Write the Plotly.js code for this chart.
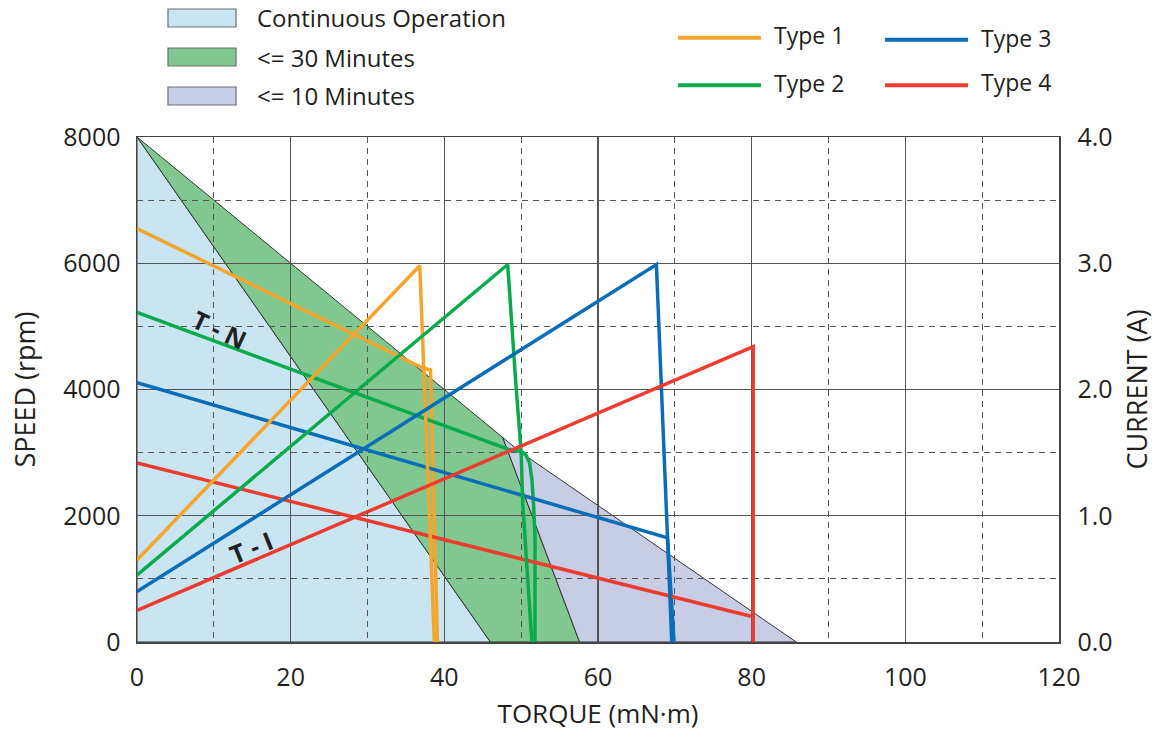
<!DOCTYPE html>
<html><head><meta charset="utf-8">
<script src="https://cdn.plot.ly/plotly-3.0.1.min.js"></script>
<style>html,body{margin:0;padding:0;background:#fff}#chart{width:1166px;height:737px}</style>
</head><body><div id="chart"></div>
<script>
// Operating regions (torque mN·m, speed rpm)
const continuousTorque = [0, 46, 0];
const continuousSpeed  = [8000, 0, 0];
const min30Torque = [0, 47.6, 57.6, 46];
const min30Speed  = [8000, 3240, 0, 0];
const min10Torque = [47.6, 50, 85.8, 57.6];
const min10Speed  = [3240, 3000, 0, 0];

// T-N curves (speed, rpm) and T-I curves (current, A)
const type1TN_x = [0, 37.2, 38.2, 39.1];
const type1TN_y = [6550, 4340, 4310, 0];
const type1TI_x = [0, 36.8, 38.7];
const type1TI_y = [0.65, 2.98, 0];

const type2TN_x = [0, 48.5, 50.0, 50.6, 51.1, 51.4, 51.6, 51.8, 51.8];
const type2TN_y = [5220, 3046, 3019, 2967, 2835, 2571, 2202, 1674, 0];
const type2TI_x = [0, 48.25, 49.3, 50.0, 50.2, 50.6, 51.1, 51.4];
const type2TI_y = [0.53, 2.99, 2.05, 1.50, 1.10, 0.71, 0.31, 0];

const type3TN_x = [0, 68.6, 69.05, 69.9];
const type3TN_y = [4110, 1665, 1649, 0];
const type3TI_x = [0, 67.6, 69.6];
const type3TI_y = [0.40, 2.99, 0];

const type4TN_x = [0, 79.9];
const type4TN_y = [2835, 408];
const type4TI_x = [0, 80.2, 80.2];
const type4TI_y = [0.25, 2.34, 0];

const xTicks = [0, 20, 40, 60, 80, 100, 120];
const ySpeedTicks = [0, 2000, 4000, 6000, 8000];
const yCurrentTicks = [0, 1, 2, 3, 4];

const regionNames = ['Continuous Operation', '<= 30 Minutes', '<= 10 Minutes'];
const regionColors = ['#c9e5f1', '#80c88f', '#c8cde6'];
const typeNames = ['Type 1', 'Type 2', 'Type 3', 'Type 4'];
const typeColors = ['#f5a52b', '#0aab4c', '#0a6db8', '#ee3b2f'];

const FONT = 'Open Sans, Noto Sans, sans-serif';
const TXT = '#231f20';

function pathOf(xs, ys) {
  return xs.map((x, i) => (i ? 'L' : 'M') + x + ',' + ys[i]).join(' ') + ' Z';
}
const regions = [[continuousTorque, continuousSpeed], [min30Torque, min30Speed], [min10Torque, min10Speed]];
const shapes = regions.map((r, i) => ({
  type: 'path', xref: 'x', yref: 'y', layer: 'below',
  path: pathOf(r[0], r[1]),
  fillcolor: regionColors[i],
  line: {color: '#333', width: 1}
}));

const annotations = [];
// region key (boxes + labels) above the plot, in paper coordinates
const keyRows = [[1.2178, 1.2535], [1.1406, 1.1762], [1.0634, 1.0990]];
regionColors.forEach((c, i) => {
  shapes.push({
    type: 'rect', xref: 'paper', yref: 'paper', layer: 'above',
    x0: 0.0336, x1: 0.1074, y0: keyRows[i][0], y1: keyRows[i][1],
    fillcolor: c, line: {color: '#6d6e71', width: 1.2}
  });
  annotations.push({
    xref: 'paper', yref: 'paper', x: 0.128, y: (keyRows[i][0] + keyRows[i][1]) / 2,
    xanchor: 'left', yanchor: 'middle', showarrow: false, text: regionNames[i],
    font: {family: FONT, size: 24, color: TXT}
  });
});

// line key (two columns) above the plot, in paper coordinates
const keyLine = [
  {x0: 0.5868, x1: 0.6768, y: 1.1964, tx: 0.6887, ty: 1.2012},
  {x0: 0.5868, x1: 0.6768, y: 1.1024, tx: 0.6887, ty: 1.1071},
  {x0: 0.8113, x1: 0.9013, y: 1.1925, tx: 0.9132, ty: 1.1964},
  {x0: 0.8113, x1: 0.9013, y: 1.1024, tx: 0.9132, ty: 1.1091}
];
typeNames.forEach((n, i) => {
  const k = keyLine[i];
  shapes.push({
    type: 'line', xref: 'paper', yref: 'paper', layer: 'above',
    x0: k.x0, x1: k.x1, y0: k.y, y1: k.y, line: {color: typeColors[i], width: 4}
  });
  annotations.push({
    xref: 'paper', yref: 'paper', x: k.tx, y: k.ty, xanchor: 'left', yanchor: 'middle',
    showarrow: false, text: n, font: {family: FONT, size: 23, color: TXT}
  });
});

annotations.push(
  {x: 10.75, y: 4960, xref: 'x', yref: 'y', text: '<b>T - N</b>', showarrow: false, textangle: 25,
   font: {family: FONT, size: 25, color: TXT}},
  {x: 14.8, y: 1511, xref: 'x', yref: 'y', text: '<b>T - I</b>', showarrow: false, textangle: -22,
   font: {family: FONT, size: 25, color: TXT}}
);

const traces = [];
const tn = [[type1TN_x, type1TN_y], [type2TN_x, type2TN_y], [type3TN_x, type3TN_y], [type4TN_x, type4TN_y]];
const ti = [[type1TI_x, type1TI_y], [type2TI_x, type2TI_y], [type3TI_x, type3TI_y], [type4TI_x, type4TI_y]];
typeNames.forEach((n, i) => {
  traces.push({
    type: 'scatter', mode: 'lines', x: ti[i][0], y: ti[i][1], yaxis: 'y2',
    name: n + ' T-I', line: {color: typeColors[i], width: 3.5}
  });
  traces.push({
    type: 'scatter', mode: 'lines', x: tn[i][0], y: tn[i][1],
    name: n + ' T-N', line: {color: typeColors[i], width: 3.5}
  });
});

const axisCommon = {
  showline: true, linecolor: '#444', linewidth: 1.5, mirror: true,
  ticks: '', tickfont: {family: FONT, size: 25, color: TXT},
  zeroline: false
};

const layout = {
  width: 1166, height: 737,
  margin: {l: 137, r: 107, t: 137, b: 95},
  paper_bgcolor: '#fff', plot_bgcolor: 'rgba(0,0,0,0)',
  font: {family: FONT, color: TXT},
  showlegend: false,
  shapes: shapes,
  annotations: annotations,
  xaxis: Object.assign({}, axisCommon, {
    range: [0, 120], tickvals: xTicks, showgrid: true, gridcolor: '#555', gridwidth: 1.2,
    minor: {dtick: 10, showgrid: true, gridcolor: '#555', gridwidth: 1.2, griddash: '6px,5px'},
    ticklabelstandoff: 12,
    title: {text: 'TORQUE (mN·m)', font: {family: FONT, size: 26, color: TXT}, standoff: 13}
  }),
  yaxis: Object.assign({}, axisCommon, {
    range: [0, 8000], tickvals: ySpeedTicks, showgrid: true, gridcolor: '#555', gridwidth: 1.2,
    minor: {dtick: 1000, showgrid: true, gridcolor: '#555', gridwidth: 1.2, griddash: '6px,5px'},
    ticklabelstandoff: 10,
    title: {text: 'SPEED (rpm)', font: {family: FONT, size: 27, color: TXT}, standoff: 20}
  }),
  yaxis2: Object.assign({}, axisCommon, {
    overlaying: 'y', side: 'right', range: [0, 4], tickvals: yCurrentTicks, tickformat: '.1f',
    showgrid: false, ticklabelstandoff: 12,
    title: {text: 'CURRENT (A)', font: {family: FONT, size: 27, color: TXT}, standoff: 16}
  })
};

Plotly.newPlot('chart', traces, layout, {displayModeBar: false, staticPlot: true});
</script>
</body></html>
